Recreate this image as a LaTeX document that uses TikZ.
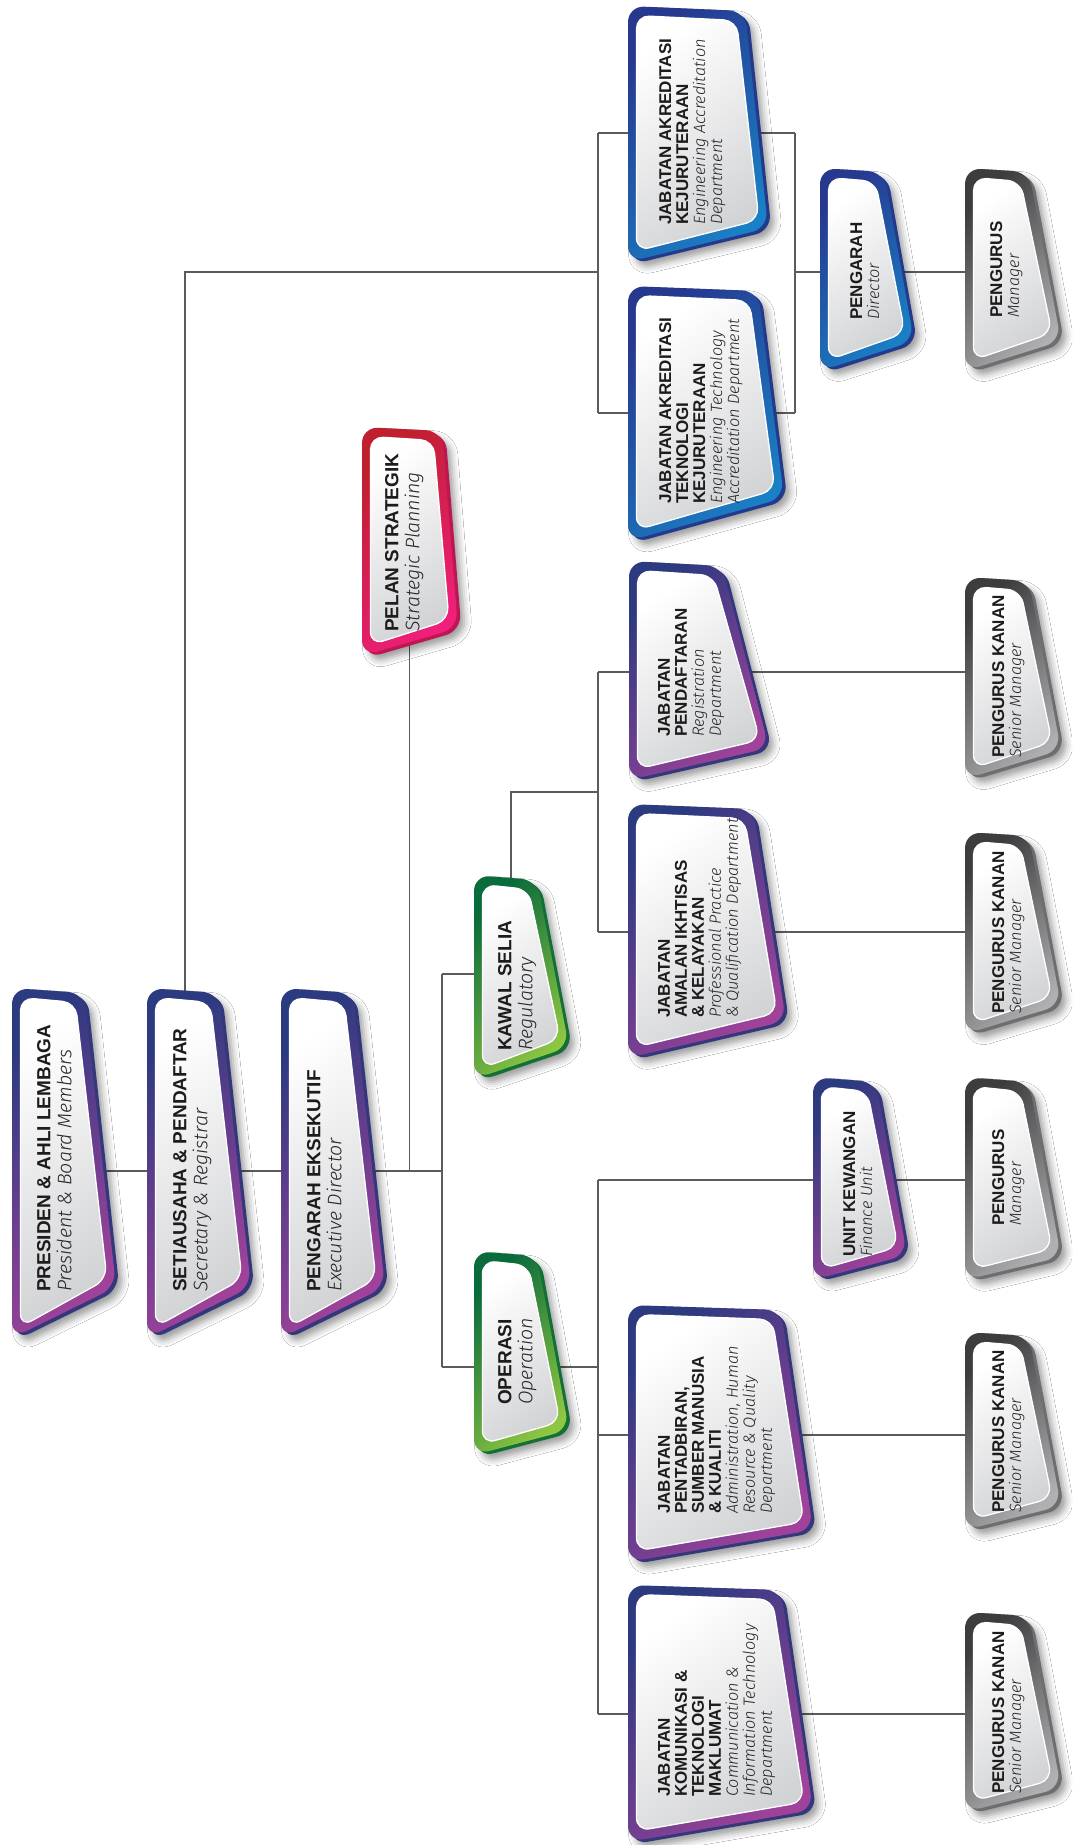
\documentclass[tikz,border=0pt]{standalone}
\usepackage{fontspec}
\setmainfont{Liberation Sans}
\newfontfamily\itf{Fira Sans Light Italic}
\usetikzlibrary{shadows.blur}
\definecolor{purA}{HTML}{2C3A80}\definecolor{purB}{HTML}{A0429A}\definecolor{purK}{HTML}{33377C}
\definecolor{bluA}{HTML}{26398F}\definecolor{bluB}{HTML}{1A80C6}\definecolor{bluK}{HTML}{23398C}
\definecolor{grnA}{HTML}{0A6B3B}\definecolor{grnB}{HTML}{8FC742}\definecolor{grnK}{HTML}{127036}
\definecolor{redA}{HTML}{C01F2E}\definecolor{redB}{HTML}{EF1F7B}\definecolor{redK}{HTML}{BE1650}
\definecolor{gryA}{HTML}{3D3D3F}\definecolor{gryB}{HTML}{B0B0B2}\definecolor{gryK}{HTML}{6E6E71}
\definecolor{innerG}{HTML}{D2D3D5}
\definecolor{txtK}{HTML}{1E1B1C}
\definecolor{itK}{HTML}{252527}
\definecolor{connK}{HTML}{5B5B5B}
\tikzset{
  conn/.style={draw=connK, line width=1.1pt},
  bigtxt/.style={anchor=north west, rotate=90, inner sep=0pt, align=left, text=txtK, font=\fontsize{19}{21}\selectfont},
  smalltxt/.style={anchor=north west, rotate=90, inner sep=0pt, align=left, text=txtK, font=\fontsize{17}{17}\selectfont},
}
\newcommand\ital[1]{{\itf\fontsize{19.6}{21}\selectfont\color{itK}#1}}
\newcommand\sital[1]{{\itf\fontsize{16.3}{17}\selectfont\color{itK}#1}}
% #1 palette, #2 L, #3 T, #4 xTR, #5 yTR, #6 xBR, #7 yBR, #8 yBL
\newcommand\orgbox[8]{%
  \fill[#1K, rounded corners=16pt, blur shadow={shadow xshift=4pt, shadow yshift=-5pt, shadow blur radius=7pt, shadow opacity=40}]
    ({#2+3.5},{#3+2.5}) -- ({#4+3.5},{#5+2.5}) -- ({#6+3.5},{#7+2.5}) -- ({#2+3.5},{#8+2.5}) -- cycle;
  \shade[top color=#1A, bottom color=#1B, shading angle=45, rounded corners=16pt]
    (#2,#3) -- (#4,#5) -- (#6,#7) -- (#2,#8) -- cycle;
  \shade[top color=white, bottom color=innerG, shading angle=35, draw=white, line width=1.3pt, rounded corners=13pt]
    ({#2+8.5},{#3+9.5}) -- ({#4-8.5},{#5+9.5}) -- ({#6-9},{#7-8}) -- ({#2+8.5},{#8-11}) -- cycle;
}
\begin{document}
\begin{tikzpicture}[x=1pt, y=-1pt]
\useasboundingbox (0,0) rectangle (1072,1845);
\fill[white] (0,0) rectangle (1072,1845);

% ---------- connection points ----------
\coordinate (presC) at (60,1171);
\coordinate (mainJ) at (442,1171);
\coordinate (pelanC) at (409.5,600);
\coordinate (pelanJ) at (409.5,1171);
\coordinate (kawJ) at (442,974);
\coordinate (kawC) at (520,974);
\coordinate (opsJ) at (442,1367);
\coordinate (opsR) at (598,1367);
\coordinate (oTop) at (598,1180);
\coordinate (oBot) at (598,1714);
\coordinate (unitC) at (1000,1180);
\coordinate (ptdJ) at (598,1435);
\coordinate (pk3C) at (1000,1435);
\coordinate (pk4C) at (1000,1714);
\coordinate (setC) at (185,1050);
\coordinate (sJ) at (598,272);
\coordinate (sTop) at (598,133);
\coordinate (sBot) at (598,413);
\coordinate (rTop) at (795,133);
\coordinate (rBot) at (795,413);
\coordinate (rMid) at (795,272);
\coordinate (pgsC) at (1000,272);
\coordinate (kawT) at (511,900);
\coordinate (kJ) at (598,792);
\coordinate (kTop) at (598,672);
\coordinate (kBot) at (598,932);
\coordinate (pk1C) at (1000,672);
\coordinate (pk2C) at (1000,932);

% ---------- connectors ----------
\draw[conn] (presC) -- (mainJ);
\draw[conn] (pelanC) -- (pelanJ);
\draw[conn] (kawJ) -- (opsJ);
\draw[conn] (kawJ) -- (kawC);
\draw[conn] (opsJ) -- (opsR);
\draw[conn] (oTop) -- (oBot);
\draw[conn] (oTop) -- (unitC);
\draw[conn] (ptdJ) -- (pk3C);
\draw[conn] (oBot) -- (pk4C);
\draw[conn] (setC) |- (sJ);
\draw[conn] (sTop) -- (sBot);
\draw[conn] (sTop) -- (rTop);
\draw[conn] (sBot) -- (rBot);
\draw[conn] (rTop) -- (rBot);
\draw[conn] (rMid) -- (pgsC);
\draw[conn] (kawT) |- (kJ);
\draw[conn] (kTop) -- (kBot);
\draw[conn] (kTop) -- (pk1C);
\draw[conn] (kBot) -- (pk2C);

% ---------- boxes ----------
\orgbox{pur}{12}{988}{84}{993}{116}{1287}{1338}
\orgbox{pur}{147}{988}{219}{993}{251}{1287}{1338}
\orgbox{pur}{281}{988}{353}{993}{385}{1287}{1338}
\orgbox{red}{362}{427}{442}{431}{458}{628}{656}
\orgbox{grn}{474}{875}{537}{880}{569}{1047}{1079}
\orgbox{grn}{474}{1251}{537}{1256}{569}{1430}{1455}
\orgbox{blu}{628}{6}{745}{11}{768}{228}{262}
\orgbox{blu}{628}{286}{758}{291}{784}{498}{541}
\orgbox{blu}{820}{168}{884}{172}{914}{341}{371}
\orgbox{gry}{965}{168}{1029}{172}{1061}{341}{371}
\orgbox{pur}{629}{561}{722}{566}{769}{748}{780}
\orgbox{gry}{965}{577}{1029}{581}{1061}{750}{779}
\orgbox{pur}{628}{804}{753}{809}{786}{1021}{1058}
\orgbox{gry}{965}{832}{1029}{836}{1061}{1005}{1034}
\orgbox{pur}{813}{1077}{876}{1082}{907}{1255}{1280}
\orgbox{gry}{965}{1077}{1029}{1082}{1061}{1257}{1280}
\orgbox{pur}{628}{1305}{781}{1310}{813}{1530}{1562}
\orgbox{gry}{965}{1332}{1029}{1336}{1061}{1506}{1530}
\orgbox{pur}{628}{1585}{781}{1590}{813}{1810}{1842}
\orgbox{gry}{965}{1612}{1029}{1616}{1061}{1788}{1812}

% ---------- texts ----------
\node[bigtxt] (pres) at (37,1292) {\textbf{PRESIDEN \& AHLI LEMBAGA}\\\ital{President \& Board Members}};
\node[bigtxt] (setia) at (173,1292) {\textbf{SETIAUSAHA \& PENDAFTAR}\\\ital{Secretary \& Registrar}};
\node[bigtxt] (pengeks) at (307,1292) {\textbf{PENGARAH EKSEKUTIF}\\\ital{Executive Director}};
\node[bigtxt] (pelan) at (385,632) {\textbf{PELAN STRATEGIK}\\\ital{Strategic Planning}};
\node[bigtxt] (kawal) at (498,1051) {\textbf{KAWAL SELIA}\\\ital{Regulatory}};
\node[bigtxt] (ops) at (498,1405) {\textbf{OPERASI}\\\ital{Operation}};

\node[smalltxt] (jak) at (659,225) {\textbf{JABATAN AKREDITASI}\\\textbf{KEJURUTERAAN}\\\sital{Engineering Accreditation}\\\sital{Department}};
\node[smalltxt] (jat) at (659,504) {\textbf{JABATAN AKREDITASI}\\\textbf{TEKNOLOGI}\\\textbf{KEJURUTERAAN}\\\sital{Engineering Technology}\\\sital{Accreditation Department}};
\node[smalltxt] (pgr) at (850,320) {\textbf{PENGARAH}\\\sital{Director}};
\node[smalltxt] (pgs1) at (990,318) {\textbf{PENGURUS}\\\sital{Manager}};
\node[smalltxt] (pdf) at (658,737) {\textbf{JABATAN}\\\textbf{PENDAFTARAN}\\\sital{Registration}\\\sital{Department}};
\node[smalltxt] (pk1) at (992,758) {\textbf{PENGURUS KANAN}\\\sital{Senior Manager}};
\node[smalltxt] (aml) at (658,1018) {\textbf{JABATAN}\\\textbf{AMALAN IKHTISAS}\\\textbf{\& KELAYAKAN}\\\sital{Professional Practice}\\\sital{\& Qualification Department}};
\node[smalltxt] (pk2) at (992,1014) {\textbf{PENGURUS KANAN}\\\sital{Senior Manager}};
\node[smalltxt] (unit) at (843,1257) {\textbf{UNIT KEWANGAN}\\\sital{Finance Unit}};
\node[smalltxt] (pgs2) at (992,1226) {\textbf{PENGURUS}\\\sital{Manager}};
\node[smalltxt] (ptd) at (658,1514) {\textbf{JABATAN}\\\textbf{PENTADBIRAN,}\\\textbf{SUMBER MANUSIA}\\\textbf{\& KUALITI}\\\sital{Administration, Human}\\\sital{Resource \& Quality}\\\sital{Department}};
\node[smalltxt] (pk3) at (992,1513) {\textbf{PENGURUS KANAN}\\\sital{Senior Manager}};
\node[smalltxt] (kom) at (658,1797) {\textbf{JABATAN}\\\textbf{KOMUNIKASI \&}\\\textbf{TEKNOLOGI}\\\textbf{MAKLUMAT}\\\sital{Communication \&}\\\sital{Information Technology}\\\sital{Department}};
\node[smalltxt] (pk4) at (992,1794) {\textbf{PENGURUS KANAN}\\\sital{Senior Manager}};
\end{tikzpicture}
\end{document}
